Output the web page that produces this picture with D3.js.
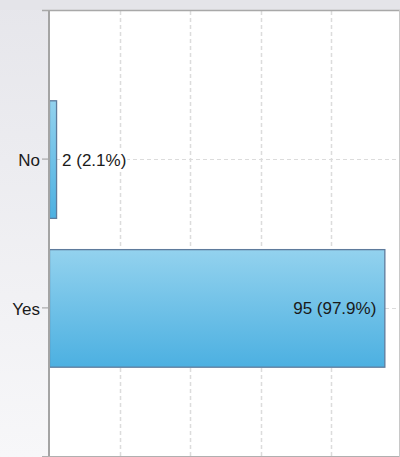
<!DOCTYPE html>
<html>
<head>
<meta charset="utf-8">
<script src="https://cdn.jsdelivr.net/npm/d3@7"></script>
<style>
html,body{margin:0;padding:0;width:400px;height:457px;overflow:hidden;background:#fff;}
svg{display:block;}
text{font-family:"Liberation Sans",Arial,sans-serif;}
</style>
</head>
<body>
<svg id="chart" width="400" height="457"></svg>
<script>
const categories = ["No", "Yes"];
const counts = [2, 95];
const percents = [2.1, 97.9];
const xTicks = [0, 20, 40, 60, 80, 100];

const W = 400, H = 457;
const m = {left: 49, top: 11, right: 1, bottom: 1};
const svg = d3.select("#chart");
const defs = svg.append("defs");

const bg = defs.append("linearGradient").attr("id","bgGrad").attr("x1",0).attr("y1",0).attr("x2",0).attr("y2",1);
bg.append("stop").attr("offset","0%").attr("stop-color","#e6e6eb");
bg.append("stop").attr("offset","100%").attr("stop-color","#f7f7f9");

const barGrad = defs.append("linearGradient").attr("id","barGrad").attr("x1",0).attr("y1",0).attr("x2",0).attr("y2",1);
barGrad.append("stop").attr("offset","0%").attr("stop-color","#93d2ee");
barGrad.append("stop").attr("offset","100%").attr("stop-color","#4cb0e1");

svg.append("rect").attr("width",W).attr("height",H).attr("fill","url(#bgGrad)");
svg.append("rect").attr("width",W).attr("height",10).attr("fill","#e4e4e9");

const x = d3.scaleLinear().domain([0, 100]).range([m.left, 402]);
const y = d3.scaleBand().domain(categories).range([m.top, 456]).paddingInner(0.21).paddingOuter(0.6);

// plot area
svg.append("rect").attr("x", m.left).attr("y", m.top).attr("width", 399 - m.left).attr("height", 456 - m.top).attr("fill", "#fff");

// vertical gridlines
svg.append("g").selectAll("line").data(xTicks.filter(t => t > 0 && t < 100)).join("line")
  .attr("x1", d => Math.round(x(d)) + 0.5).attr("x2", d => Math.round(x(d)) + 0.5)
  .attr("y1", m.top).attr("y2", 456)
  .attr("stroke", "#dcdcdc").attr("stroke-width", 1.5).attr("stroke-dasharray", "4,3");

// horizontal gridlines at category centers
svg.append("g").selectAll("line").data(categories).join("line")
  .attr("x1", m.left).attr("x2", 399)
  .attr("y1", d => Math.round(y(d) + y.bandwidth()/2) + 0.5)
  .attr("y2", d => Math.round(y(d) + y.bandwidth()/2) + 0.5)
  .attr("stroke", "#dcdcdc").attr("stroke-width", 1).attr("stroke-dasharray", "4,3");

// bars
svg.append("g").selectAll("rect").data(categories).join("rect")
  .attr("x", x(0) + 0.5)
  .attr("y", d => y(d) + 0.5)
  .attr("width", (d, i) => x(counts[i]) - x(0))
  .attr("height", y.bandwidth())
  .attr("fill", "url(#barGrad)")
  .attr("stroke", "#5e7b9c").attr("stroke-width", 1.3);

// value labels
const lbl = svg.append("g").selectAll("g").data(categories).join("g");
lbl.each(function(d, i) {
  const inside = x(counts[i]) - x(0) > 120;
  const g = d3.select(this);
  const t = g.append("text")
    .attr("x", inside ? x(counts[i]) - 8 : x(counts[i]) + 6)
    .attr("y", y(d) + y.bandwidth()/2 + 1)
    .attr("text-anchor", inside ? "end" : "start")
    .attr("dominant-baseline", "central")
    .attr("font-size", "17px").attr("fill", "#1a1a1a")
    .text(`${counts[i]} (${percents[i]}%)`);
  if (!inside) {
    const b = t.node().getBBox();
    g.insert("rect", "text").attr("x", b.x - 1).attr("y", b.y).attr("width", b.width + 2).attr("height", b.height).attr("fill", "#fff");
  }
});

// y axis
const yAxis = d3.axisLeft(y).tickSize(7).tickPadding(2);
const ga = svg.append("g").attr("transform", `translate(${m.left},0)`).call(yAxis);
ga.select(".domain").remove();
ga.selectAll(".tick line").attr("stroke", "#9a9a9a");
ga.selectAll(".tick text").attr("font-size", "17px").attr("fill", "#1a1a1a").attr("font-family", '"Liberation Sans",Arial,sans-serif').attr("dy", "0.4em");

// axis lines / borders
svg.append("line").attr("x1", m.left).attr("x2", m.left).attr("y1", 10).attr("y2", 457).attr("stroke", "#a4a4a4").attr("stroke-width", 2);
svg.append("line").attr("x1", 42).attr("x2", 400).attr("y1", 10.5).attr("y2", 10.5).attr("stroke", "#a8a8a8").attr("stroke-width", 1.5);
svg.append("line").attr("x1", 42).attr("x2", 400).attr("y1", 456.5).attr("y2", 456.5).attr("stroke", "#b0b0b0").attr("stroke-width", 1);
svg.append("line").attr("x1", 399.5).attr("x2", 399.5).attr("y1", 10).attr("y2", 457).attr("stroke", "#c8c8c8").attr("stroke-width", 1);
</script>
</body>
</html>
